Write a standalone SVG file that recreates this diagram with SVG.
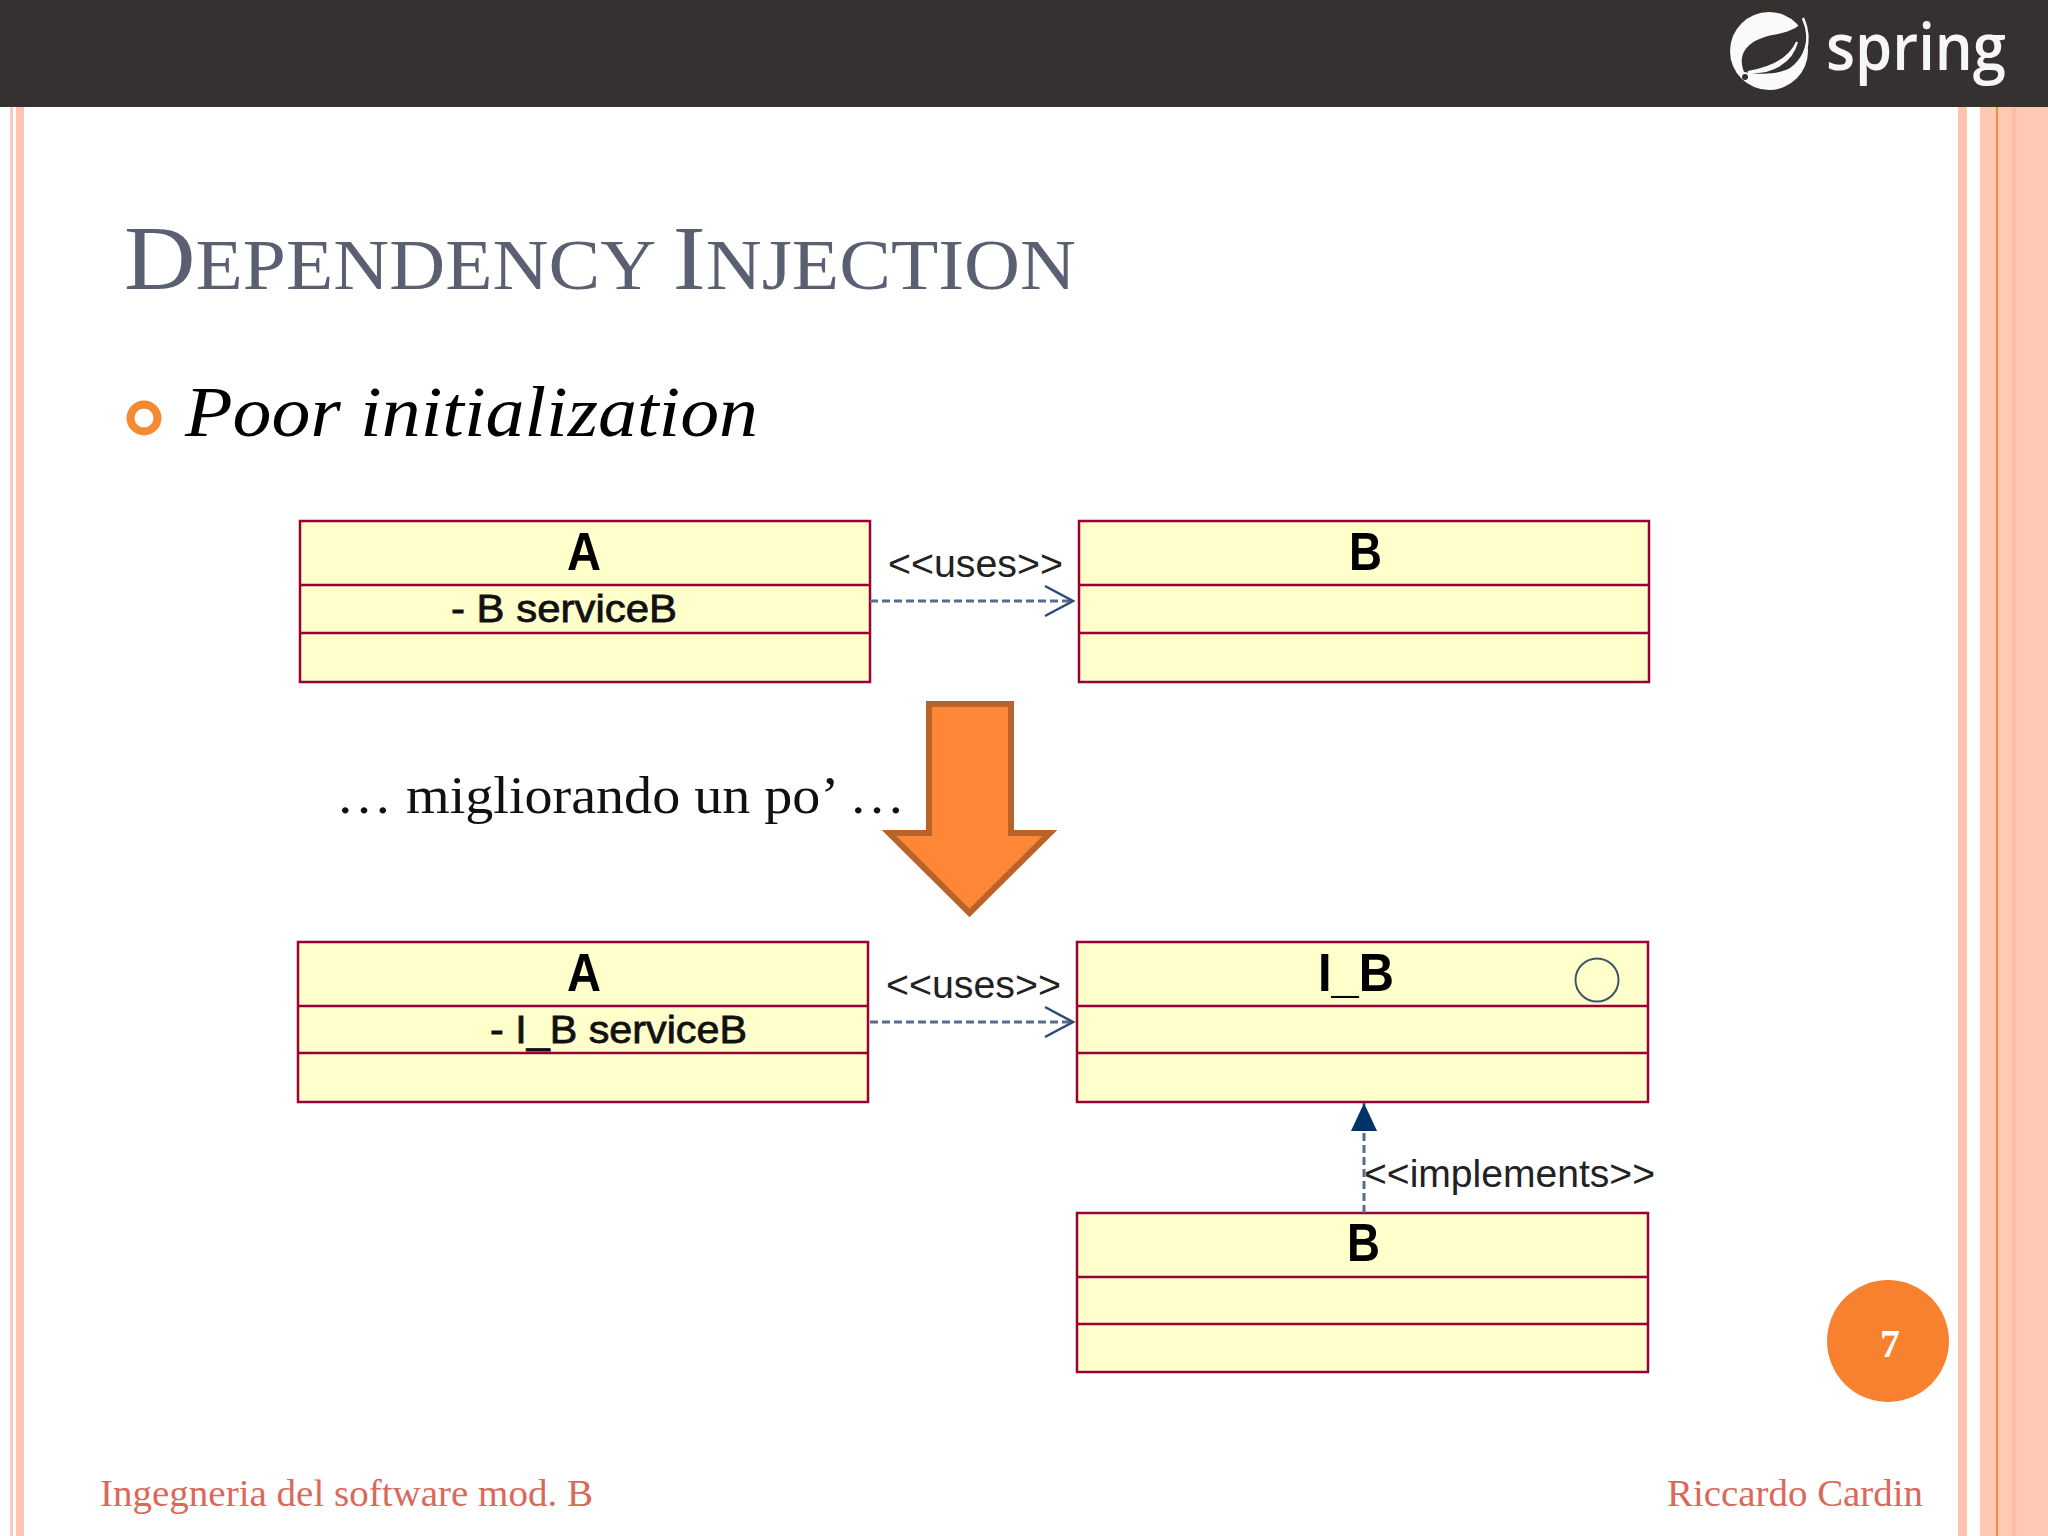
<svg xmlns="http://www.w3.org/2000/svg" width="2048" height="1536" viewBox="0 0 2048 1536">
<style>
.box{fill:#ffffcc;stroke:#990033;stroke-width:2.5}
.div{stroke:#990033;stroke-width:2.5;fill:none}
.name{font-family:"Liberation Sans",Arial,sans-serif;font-weight:700;font-size:54px;fill:#000}
.attr{font-family:"Liberation Sans",Arial,sans-serif;font-size:39px;fill:#111;stroke:#111;stroke-width:.8}
.lbl{font-family:"Liberation Sans",Arial,sans-serif;font-size:38px;fill:#222}
.dash{fill:none;stroke:#5a6a92;stroke-width:3;stroke-dasharray:8 4}
.serif{font-family:"Liberation Serif","Times New Roman",serif}
.foot{font-family:"Liberation Serif","Times New Roman",serif;font-size:37px;fill:#d9695a}
</style>
<defs>
<marker id="open" markerUnits="userSpaceOnUse" markerWidth="34" markerHeight="36" refX="30" refY="18" orient="auto"><path d="M2 3L30 18L2 33" fill="none" stroke="#2f4a78" stroke-width="2.5"/></marker>
<marker id="solid" markerUnits="userSpaceOnUse" markerWidth="30" markerHeight="30" refX="28" refY="14" orient="auto"><path d="M0 1L28 14L0 27Z" fill="#003366"/></marker>
</defs>
<rect width="2048" height="1536" fill="#fff"/>
<g id="frame">
<rect x="10" y="106" width="3" height="1430" fill="#ffc8c0"/>
<rect x="16" y="106" width="8" height="1430" fill="#ffc4b2"/>
<rect x="1958" y="106" width="9" height="1430" fill="#ffc4ae"/>
<rect x="1980" y="106" width="68" height="1430" fill="#ffc9b4"/>
<rect x="1996" y="106" width="2" height="1430" fill="#f58a45"/>
<rect x="2012" y="106" width="4" height="1430" fill="#ffbaa3"/>
<rect width="2048" height="107" fill="#353130"/>
</g>
<g id="logo">
<circle cx="1769" cy="51" r="39" fill="#fafafa"/>
<path d="M1744 72C1736 52 1750 38 1778 34C1792 31 1800 26 1804 20C1810 38 1805 58 1790 68C1775 76 1757 74 1744 72Z" fill="#353130"/>
<path d="M1748 72C1772 68 1790 58 1797 42C1792 62 1772 74 1748 72Z" fill="#fafafa" stroke="#fafafa" stroke-width="2"/>
<path d="M1803 18C1813 40 1806 68 1782 82" fill="none" stroke="#fafafa" stroke-width="2.500"/>
<circle cx="1745" cy="77" r="3" fill="#353130"/>
<text x="1826" y="70" font-family="'Open Sans','Liberation Sans',sans-serif" font-weight="600" font-size="66" fill="#f6f6f6" textLength="180" lengthAdjust="spacingAndGlyphs">spring</text>
</g>
<g id="title">
<text class="serif" x="124" y="289" fill="#5a6072" font-size="92" textLength="952" lengthAdjust="spacingAndGlyphs">D<tspan font-size="72">EPENDENCY </tspan>I<tspan font-size="72">NJECTION</tspan></text>
</g>
<g id="bullet">
<circle cx="144" cy="418" r="13.500" fill="none" stroke="#f58a35" stroke-width="8"/>
<text class="serif" x="185" y="436" font-size="72" font-style="italic" fill="#000" textLength="573" lengthAdjust="spacingAndGlyphs">Poor initialization</text>
</g>
<g id="class-a1">
<rect class="box" x="300" y="521" width="570" height="161"/>
<path class="div" d="M300 585H870M300 633H870"/>
<text class="name" x="567" y="570" textLength="34" lengthAdjust="spacingAndGlyphs">A</text>
<text class="attr" x="451" y="622" textLength="226" lengthAdjust="spacingAndGlyphs">- B serviceB</text>
</g>
<g id="class-b1">
<rect class="box" x="1079" y="521" width="570" height="161"/>
<path class="div" d="M1079 585H1649M1079 633H1649"/>
<text class="name" x="1349" y="570" textLength="33" lengthAdjust="spacingAndGlyphs">B</text>
</g>
<g id="class-a2">
<rect class="box" x="298" y="942" width="570" height="160"/>
<path class="div" d="M298 1006H868M298 1053H868"/>
<text class="name" x="567" y="991" textLength="34" lengthAdjust="spacingAndGlyphs">A</text>
<text class="attr" x="490" y="1043" textLength="257" lengthAdjust="spacingAndGlyphs">- I_B serviceB</text>
</g>
<g id="class-ib">
<rect class="box" x="1077" y="942" width="571" height="160"/>
<path class="div" d="M1077 1006H1648M1077 1053H1648"/>
<text class="name" x="1318" y="991" textLength="76" lengthAdjust="spacingAndGlyphs">I_B</text>
<circle cx="1597" cy="980" r="21.500" fill="none" stroke="#3d5566" stroke-width="2"/>
</g>
<g id="class-b2">
<rect class="box" x="1077" y="1213" width="571" height="159"/>
<path class="div" d="M1077 1277H1648M1077 1324H1648"/>
<text class="name" x="1347" y="1261" textLength="33" lengthAdjust="spacingAndGlyphs">B</text>
</g>
<g id="connectors">
<path class="dash" d="M870 601H1073" marker-end="url(#open)"/>
<path class="dash" d="M870 1022H1073" marker-end="url(#open)"/>
<path class="dash" d="M1364 1213V1103" marker-end="url(#solid)"/>
</g>
<g id="labels">
<text class="lbl" x="888" y="577" textLength="175" lengthAdjust="spacingAndGlyphs">&lt;&lt;uses&gt;&gt;</text>
<text class="lbl" x="886" y="998" textLength="175" lengthAdjust="spacingAndGlyphs">&lt;&lt;uses&gt;&gt;</text>
<text class="lbl" x="1364" y="1187" textLength="291" lengthAdjust="spacingAndGlyphs">&lt;&lt;implements&gt;&gt;</text>
</g>
<g id="note">
<text class="serif" x="336" y="813" font-size="52" fill="#111" textLength="569" lengthAdjust="spacingAndGlyphs">… migliorando un po’ …</text>
</g>
<g id="down-arrow">
<path d="M929 704H1011V833H1050L969.500 913L889 833H929Z" fill="#fe8637" stroke="#b9622a" stroke-width="6"/>
</g>
<g id="page-number">
<circle cx="1888" cy="1341" r="61" fill="#f8812f"/>
<text x="1890" y="1357" text-anchor="middle" font-family="'Liberation Serif',serif" font-weight="700" font-size="40" fill="#fff">7</text>
</g>
<g id="footer">
<text class="foot" x="100" y="1506" textLength="493" lengthAdjust="spacingAndGlyphs">Ingegneria del software mod. B</text>
<text class="foot" x="1667" y="1506" textLength="256" lengthAdjust="spacingAndGlyphs">Riccardo Cardin</text>
</g>
</svg>
